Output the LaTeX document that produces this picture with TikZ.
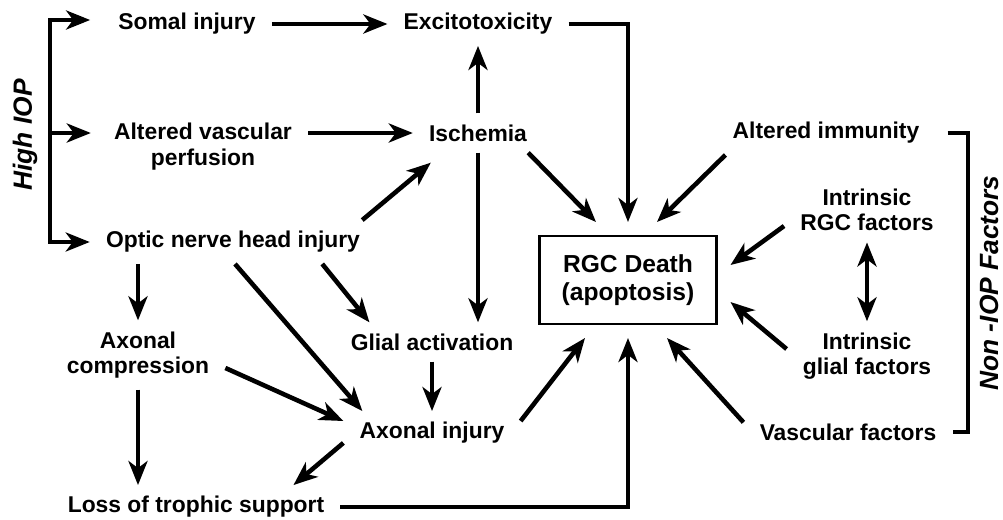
\documentclass[tikz,border=0pt]{standalone}
\usepackage{fontspec}
\setmainfont{Liberation Sans}
\usetikzlibrary{arrows.meta}

\begin{document}
\begin{tikzpicture}[>={Stealth[length=0.48cm,width=0.38cm,inset=0.14cm]},line width=2.6pt,
  lbl/.style={font=\bfseries\fontsize{13}{14.5}\selectfont,align=center,inner xsep=0.28cm,inner ysep=0.18cm},
  side/.style={font=\bfseries\itshape\fontsize{15}{18}\selectfont,rotate=90}]
  \useasboundingbox (0,0) rectangle (20.06,10.38);
  \node[lbl] (somal)  at (3.74,9.90) {Somal injury};
  \node[lbl] (excito) at (9.56,9.90) {Excitotoxicity};
  \node[lbl] (altvasc) at (4.06,7.45) {Altered vascular\\perfusion};
  \node[lbl] (isch)   at (9.56,7.72) {Ischemia};
  \node[lbl] (optic)  at (4.66,5.54) {Optic nerve head injury};
  \node[lbl] (axcomp) at (2.76,3.28) {Axonal\\compression};
  \node[lbl] (glial)  at (8.64,3.54) {Glial activation};
  \node[lbl] (axinj)  at (8.64,1.72) {Axonal injury};
  \node[lbl] (loss)   at (3.92,0.24) {Loss of trophic support};
  \node[draw,line width=1.2pt,align=center,font=\bfseries\fontsize{14}{16}\selectfont,
        minimum width=3.54cm,minimum height=1.76cm,outer sep=0.28cm] (rgc) at (12.56,4.78) {RGC Death\\(apoptosis)};
  \node[lbl] (altimm) at (16.52,7.72) {Altered immunity};
  \node[lbl] (intrgc) at (17.34,6.18) {Intrinsic\\RGC factors};
  \node[lbl] (intglial) at (17.34,3.26) {Intrinsic\\glial factors};
  \node[lbl] (vascf)  at (16.96,1.74) {Vascular factors};
  \node[side] (high)  at (0.50,7.68) {High IOP};
  \node[side] (non)   at (19.78,4.72) {Non -IOP Factors};
  \coordinate (hitop) at (1.00,9.98);
  \coordinate (himid) at (1.00,7.72);
  \coordinate (hibot) at (1.00,5.54);
  \coordinate (nitop) at (19.36,7.72);
  \coordinate (nibot) at (19.36,1.74);
  \draw[line cap=rect] (hitop) -- (hibot);
  \draw[->,shorten >=0.24cm] (hitop) -- (hitop -| somal.west);
  \draw[->,shorten >=0.14cm] (himid) -- (himid -| altvasc.west);
  \draw[->] (hibot) -- (optic.west);
  \draw ([xshift=0.24cm]altimm.east) -- (nitop) -- (nibot) -- (vascf.east);
  \draw[->] (somal) -- (excito);
  \draw[->] (altvasc.east |- isch) -- (isch);
  \draw[->] (isch) -- (excito);
  \draw[->] (excito) -| (rgc);
  \draw[->] ([xshift=-0.3cm]isch.south east) -- ([xshift=-0.64cm]rgc.north);
  \draw[->] (isch) -- (isch |- glial.north);
  \draw[->] ([xshift=-0.28cm]optic.north east) -- ([xshift=0.36cm,yshift=-0.2cm]isch.south west);
  \draw[->] (optic.south -| axcomp) -- (axcomp);
  \draw[->] ([xshift=-1.08cm]optic.south east) -- ([xshift=0.7cm]glial.north west);
  \draw[->] ([xshift=0.04cm]optic.south) -- ([xshift=0.38cm]axinj.north west);
  \draw[->] ([yshift=-0.26cm]axcomp.east) -- ([yshift=0.24cm]axinj.west);
  \draw[->] (axcomp) -- (axcomp |- loss.north);
  \draw[->] (glial) -- (axinj);
  \draw[->] ([yshift=0.24cm]axinj.south west) -- ([xshift=-0.94cm]loss.north east);
  \draw[->] (loss) -| (rgc);
  \draw[->] ([yshift=0.24cm]axinj.east) -- ([xshift=-0.86cm]rgc.south);
  \draw[->] ([xshift=0.18cm]altimm.south west) -- ([xshift=0.58cm]rgc.north);
  \draw[->] ([yshift=-0.32cm]intrgc.west) -- ([yshift=0.3cm]rgc.east);
  \draw[->] ([yshift=0.14cm]intglial.west) -- ([yshift=-0.44cm]rgc.east);
  \draw[<->] (intrgc) -- (intglial);
  \draw[->] ([yshift=-0.2cm]vascf.north west) -- ([xshift=0.78cm]rgc.south);
\end{tikzpicture}
\end{document}
